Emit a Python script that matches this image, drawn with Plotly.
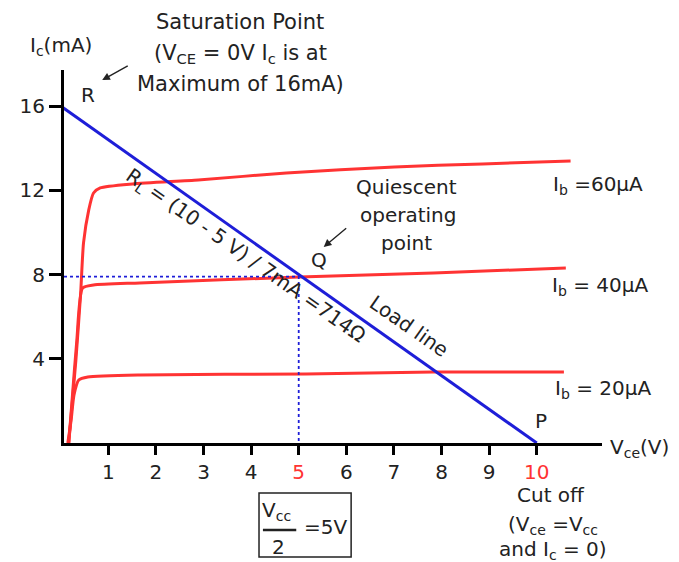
import plotly.graph_objects as go

# ---------------- data ----------------
vce_60 = [0.17, 0.32, 0.42, 0.48, 0.59, 0.69, 0.83, 1.51, 2.89, 4.74, 7.01, 8.86, 10.71]
ic_60 = [0.0, 3.94, 7.12, 9.50, 11.07, 11.87, 12.11, 12.30, 12.49, 12.82, 13.11, 13.25, 13.39]

vce_40 = [0.17, 0.24, 0.34, 0.46, 0.69, 1.66, 5.01, 7.83, 10.61]
ic_40 = [0.0, 2.04, 4.89, 7.36, 7.50, 7.60, 7.88, 8.07, 8.31]

vce_20 = [0.15, 0.22, 0.28, 0.38, 0.57, 1.66, 5.15, 7.83, 10.57]
ic_20 = [0.0, 1.09, 2.28, 2.99, 3.13, 3.23, 3.28, 3.37, 3.37]

load_vce = [0, 10]
load_ic = [16, 0]

q_vce = 5
q_ic = 7.9

x_ticks = [1, 2, 3, 4, 5, 6, 7, 8, 9, 10]
x_ticktext = ["1", "2", "3", "4", "<span style='color:#ff3333'>5</span>", "6", "7", "8", "9",
              "<span style='color:#ff3333'>10</span>"]
y_ticks = [4, 8, 12, 16]
y_ticktext = ["4", "8", "12", "16"]

# ---------------- layout helpers ----------------
OFF = 8  # page body margin
W, H = 679 - OFF, 562 - OFF
ML, MR, MT, MB = 53 - OFF, 77, 70 - OFF, 119
PW, PH = W - ML - MR, H - MT - MB
FONT = "DejaVu Sans, Liberation Sans, Arial, sans-serif"
TXT = "#222222"
RED = "#ff3333"
BLUE = "#1e1ed8"


def px(x):
    return (x - OFF - ML) / PW


def py(y):
    return (H - MB - (y - OFF)) / PH


fig = go.Figure()

for vx, vy in [(vce_60, ic_60), (vce_40, ic_40), (vce_20, ic_20)]:
    fig.add_trace(go.Scatter(x=vx, y=vy, mode="lines", line=dict(color=RED, width=3, shape="spline", smoothing=0.6),
                             hoverinfo="skip", showlegend=False, cliponaxis=False))

fig.add_trace(go.Scatter(x=load_vce, y=load_ic, mode="lines", line=dict(color=BLUE, width=3),
                         showlegend=False, cliponaxis=False))
fig.add_trace(go.Scatter(x=[0.07, q_vce, q_vce], y=[q_ic, q_ic, 0], mode="lines",
                         line=dict(color=BLUE, width=1.8, dash="dot"), showlegend=False))

annots = []


def txt(text, x, y, size=20, angle=0, color=TXT):
    annots.append(dict(text=text, x=px(x), y=py(y), xref="paper", yref="paper", showarrow=False,
                       xanchor="center", yanchor="middle", textangle=angle,
                       font=dict(family=FONT, size=size, color=color)))


def arrow(x_head, y_head, x_tail, y_tail):
    annots.append(dict(text="", x=px(x_head), y=py(y_head), xref="paper", yref="paper", showarrow=True,
                       ax=x_tail - x_head, ay=y_tail - y_head, axref="pixel", ayref="pixel",
                       arrowhead=2, arrowsize=1.1, arrowwidth=1.4, arrowcolor=TXT))


txt("I<sub>c</sub>(mA)", 50, 46)
txt("Saturation Point", 233, 22, 21)
txt("(V<sub>CE</sub> = 0V I<sub>c</sub> is at", 233, 54, 21)
txt("Maximum of 16mA)", 233, 84, 21)
arrow(92, 80, 119, 65)
txt("R", 78, 95)
txt("R<sub>L</sub> = (10 - 5 V) / 7mA =714Ω", 238, 256, 20, 35)
txt("Quiescent", 403, 187)
txt("operating", 404, 215)
txt("point", 403, 243)
arrow(318, 247, 342, 227)
txt("Q", 313, 260)
txt("Load line", 405, 326, 20, 35)
txt("I<sub>b</sub> =60µA", 598, 185)
txt("I<sub>b</sub> = 40µA", 600, 286)
txt("I<sub>b</sub> = 20µA", 603, 389)
txt("P", 540, 421)
txt("V<sub>ce</sub>(V)", 640, 448)
txt("Cut off", 550, 495)
txt("(V<sub>ce</sub> =V<sub>cc</sub>", 552, 525)
txt("and I<sub>c</sub> = 0)", 552, 550)
txt("V<sub>cc</sub>", 270, 511)
txt("2", 272, 547)
txt("=5V", 320, 527)

shapes = [
    dict(type="rect", xref="paper", yref="paper", x0=px(252), x1=px(346), y0=py(493), y1=py(557),
         line=dict(color=TXT, width=1.5)),
    dict(type="line", xref="paper", yref="paper", x0=px(256), x1=px(290), y0=py(530), y1=py(530),
         line=dict(color=TXT, width=2.5)),
]

fig.update_layout(
    width=W, height=H, margin=dict(l=ML, r=MR, t=MT, b=MB),
    plot_bgcolor="white", paper_bgcolor="white",
    annotations=annots, shapes=shapes,
    font=dict(family=FONT, size=20, color=TXT),
    xaxis=dict(range=[0.07, 11.37], showgrid=False, zeroline=False, showline=True, linecolor="black",
               linewidth=3, ticks="outside", ticklen=9, tickwidth=3, tickcolor="black",
               tickvals=x_ticks, ticktext=x_ticktext, tickfont=dict(size=20, color=TXT)),
    yaxis=dict(range=[0, 17.71], showgrid=False, zeroline=False, showline=True, linecolor="black",
               linewidth=3, ticks="outside", ticklen=12, tickwidth=3, tickcolor="black",
               tickvals=y_ticks, ticktext=y_ticktext, tickfont=dict(size=20, color=TXT)),
)

fig.write_html("out.html")
